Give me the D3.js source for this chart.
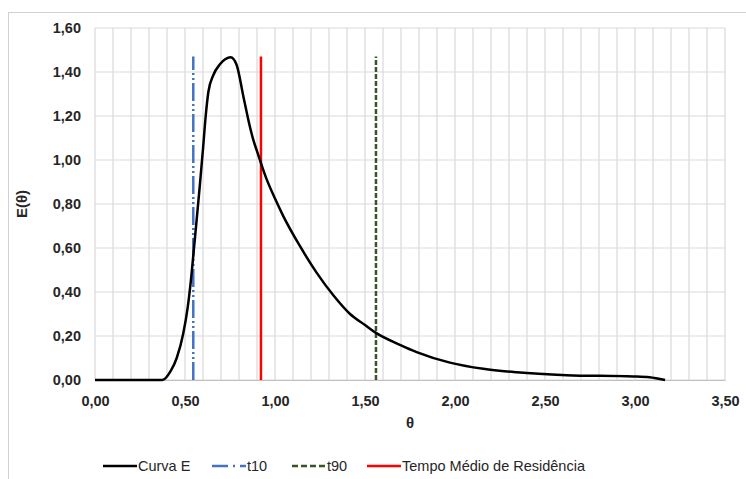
<!DOCTYPE html>
<html>
<head>
<meta charset="utf-8">
<script src="https://d3js.org/d3.v7.min.js"></script>
<style>
  body { margin: 0; background: #fff; }
  svg text { font-family: "Liberation Sans", Arial, sans-serif; }
  .tick text { font-size: 14.5px; font-weight: bold; fill: #262626; }
  .grid line { stroke: #d9d9d9; stroke-width: 1.2; }
</style>
</head>
<body>
<div id="chart"></div>
<script>
  // curva E (theta, E)
  var theta = [0, 0.10, 0.20, 0.30, 0.374, 0.42, 0.454, 0.49, 0.515, 0.535, 0.55, 0.565, 0.583, 0.60, 0.615, 0.63,
    0.657, 0.694, 0.754, 0.787, 0.824, 0.861, 0.88, 0.90, 0.95, 1.0, 1.046, 1.139, 1.231, 1.324, 1.417, 1.50, 1.561,
    1.694, 1.787, 1.972, 2.157, 2.343, 2.62, 2.99, 3.08, 3.167];
  var E = [0, 0, 0, 0, 0, 0.04, 0.10, 0.21, 0.33, 0.47, 0.60, 0.73, 0.89, 1.05, 1.20, 1.31,
    1.385, 1.435, 1.467, 1.432, 1.29, 1.15, 1.09, 1.04, 0.92, 0.825, 0.745, 0.608, 0.488, 0.385, 0.30, 0.25, 0.214,
    0.160, 0.127, 0.079, 0.051, 0.035, 0.022, 0.016, 0.012, 0];

  var t10 = 0.546, t90 = 1.561, tMedio = 0.922, lineTop = 1.47;
  var xTicks = [0, 0.5, 1, 1.5, 2, 2.5, 3, 3.5];
  var yTicks = [0, 0.2, 0.4, 0.6, 0.8, 1.0, 1.2, 1.4, 1.6];

  var W = 746, H = 479;
  var svg = d3.select("#chart").append("svg").attr("width", W).attr("height", H);

  // moldura externa
  svg.append("rect").attr("x", 8.5).attr("y", 12.5).attr("width", 760).attr("height", 500)
    .attr("fill", "none").attr("stroke", "#d0d0d0").attr("stroke-width", 1);

  var x = d3.scaleLinear().domain([0, 3.5]).range([95, 725]);
  var y = d3.scaleLinear().domain([0, 1.6]).range([380, 28]);
  var fmt = function(d) { return d3.format(".2f")(d).replace(".", ","); };

  // grade
  var g = svg.append("g").attr("class", "grid");
  g.selectAll(".v").data(d3.range(0, 36)).enter().append("line")
    .attr("x1", function(d) { return x(d / 10); }).attr("x2", function(d) { return x(d / 10); })
    .attr("y1", y(0)).attr("y2", y(1.6));
  g.selectAll(".h").data(yTicks).enter().append("line")
    .attr("x1", x(0)).attr("x2", x(3.5))
    .attr("y1", function(d) { return y(d); }).attr("y2", function(d) { return y(d); });

  var xAxis = svg.append("g").attr("transform", "translate(0," + y(0) + ")")
    .call(d3.axisBottom(x).tickValues(xTicks).tickFormat(fmt).tickSize(0).tickPadding(16));
  xAxis.select(".domain").attr("stroke", "#bfbfbf");

  var yAxis = svg.append("g").attr("transform", "translate(" + x(0) + ",0)")
    .call(d3.axisLeft(y).tickValues(yTicks).tickFormat(fmt).tickSize(0).tickPadding(14));
  yAxis.select(".domain").remove();

  // títulos dos eixos
  svg.append("text").attr("x", x(1.75)).attr("y", 428).attr("text-anchor", "middle")
    .attr("font-size", 15).attr("font-weight", "bold").attr("fill", "#262626").text("θ");
  svg.append("text").attr("transform", "translate(27," + y(0.8) + ") rotate(-90)")
    .attr("text-anchor", "middle").attr("font-size", 15).attr("font-weight", "bold")
    .attr("fill", "#262626").text("E(θ)");

  // linhas verticais
  function vline(v, color, dash, w) {
    svg.append("line").attr("x1", x(v)).attr("x2", x(v)).attr("y1", y(0)).attr("y2", y(lineTop))
      .attr("stroke", color).attr("stroke-width", w).attr("stroke-dasharray", dash);
  }
  vline(t10, "#4472c4", "18,3,2,3,2,3", 2.5);
  vline(t90, "#375623", "5,2", 2.5);
  vline(tMedio, "#ff0000", null, 2.5);

  // curva E
  var pts = theta.map(function(t, i) { return [t, E[i]]; });
  svg.append("path").datum(pts)
    .attr("d", d3.line().x(function(d) { return x(d[0]); }).y(function(d) { return y(d[1]); })
      .curve(d3.curveMonotoneX))
    .attr("fill", "none").attr("stroke", "#000").attr("stroke-width", 2.5);

  // legenda
  var legend = [
    { label: "Curva E", color: "#000", dash: null, x0: 103 },
    { label: "t10", color: "#4472c4", dash: "16,5,2,5", x0: 212 },
    { label: "t90", color: "#375623", dash: "6,3", x0: 292 },
    { label: "Tempo Médio de Residência", color: "#ff0000", dash: null, x0: 367 }
  ];
  var lg = svg.selectAll(".leg").data(legend).enter().append("g");
  lg.append("line").attr("x1", function(d) { return d.x0; }).attr("x2", function(d) { return d.x0 + 34; })
    .attr("y1", 466).attr("y2", 466).attr("stroke", function(d) { return d.color; })
    .attr("stroke-width", 2.5).attr("stroke-dasharray", function(d) { return d.dash; });
  lg.append("text").attr("x", function(d) { return d.x0 + 35; }).attr("y", 471)
    .attr("font-size", 14.5).attr("fill", "#262626").text(function(d) { return d.label; });
</script>
</body>
</html>
